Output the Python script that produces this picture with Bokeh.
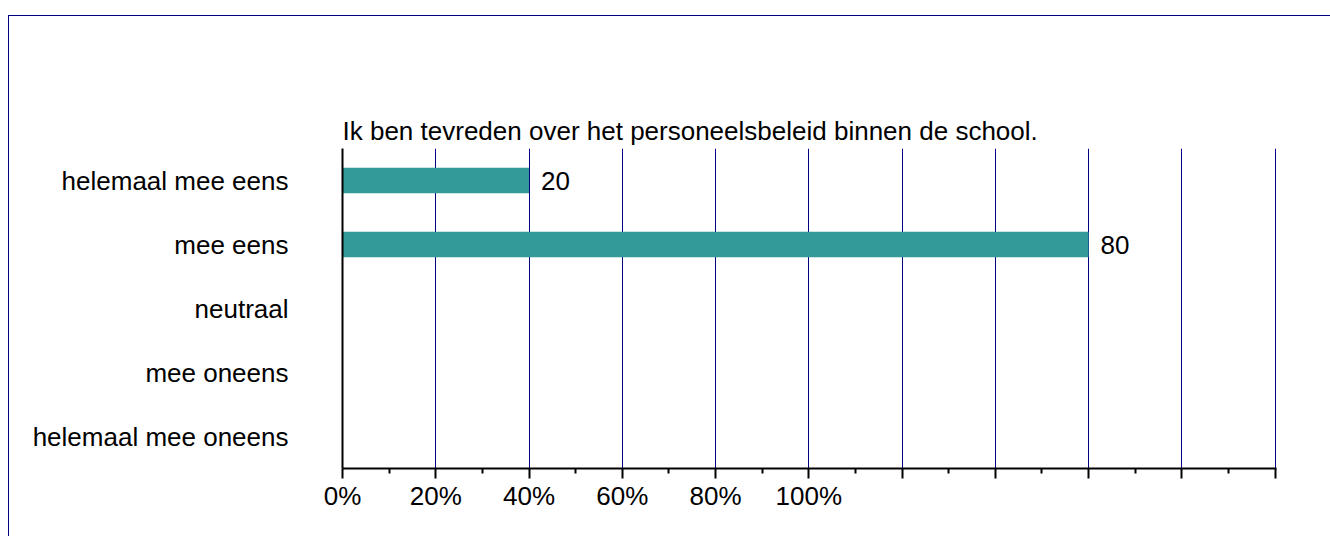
from bokeh.plotting import figure
from bokeh.models import Range1d, FactorRange, FixedTicker, ColumnDataSource
from bokeh.core.properties import value
from bokeh.embed import file_html
from bokeh.resources import INLINE

title_text = "Ik ben tevreden over het personeelsbeleid binnen de school."
categories = ["helemaal mee eens", "mee eens", "neutraal", "mee oneens", "helemaal mee oneens"]
counts = [20, 80, 0, 0, 0]
tick_values = [0, 10, 20, 30, 40, 50, 60, 70, 80, 90, 100]
tick_labels = ["0%", "20%", "40%", "60%", "80%", "100%"]

FONT = "Liberation Sans"
FS = "26px"
BAR = "#339999"
GRID = "#000080"

p = figure(width=1321, height=520, output_backend="svg", toolbar_location=None,
           x_range=Range1d(0, 100.15), y_range=FactorRange(factors=list(reversed(categories))),
           min_border_left=333, min_border_right=54, min_border_top=132, min_border_bottom=68)
p.margin = (16, 0, 0, 9)
p.styles = {"outline": "1px solid #000080"}
p.outline_line_color = None
p.background_fill_color = "white"
p.border_fill_color = "white"

p.title.text = title_text
p.title.align = "left"
p.title.text_font = FONT
p.title.text_font_size = FS
p.title.text_font_style = "normal"
p.title.text_color = "black"
p.title.standoff = 6

src = ColumnDataSource(dict(cat=categories, val=counts))
p.hbar(y="cat", left=0, right="val", height=0.4, source=src, fill_color=BAR, line_color=None)

lab = [(c, v) for c, v in zip(categories, counts) if v > 0]
lsrc = ColumnDataSource(dict(cat=[c for c, _ in lab], val=[v for _, v in lab], txt=[str(v) for _, v in lab]))
p.text(x="val", y="cat", text="txt", source=lsrc, x_offset=12, text_baseline="middle",
       text_align="left", text_font=value(FONT), text_font_size=FS, text_color="black")

# x axis
xa = p.xaxis[0]
xa.ticker = FixedTicker(ticks=tick_values, minor_ticks=[v + 5 for v in tick_values[:-1]])
xa.major_label_overrides = {v: (tick_labels[i] if i < len(tick_labels) else "") for i, v in enumerate(tick_values)}
xa.axis_line_color = "black"
xa.axis_line_width = 2
xa.major_tick_line_color = "black"
xa.major_tick_line_width = 2
xa.major_tick_in = 0
xa.major_tick_out = 10
xa.minor_tick_line_color = "black"
xa.minor_tick_line_width = 2
xa.minor_tick_in = 0
xa.minor_tick_out = 5
xa.major_label_text_font = FONT
xa.major_label_text_font_size = FS
xa.major_label_text_color = "black"
xa.major_label_standoff = 2

ya = p.yaxis[0]
ya.axis_line_color = "black"
ya.axis_line_width = 2
ya.major_tick_line_color = None
ya.major_tick_in = 0
ya.major_tick_out = 0
ya.minor_tick_line_color = None
ya.major_label_text_font = FONT
ya.major_label_text_font_size = FS
ya.major_label_text_color = "black"
ya.major_label_standoff = 54

p.xgrid.grid_line_color = GRID
p.xgrid.grid_line_width = 1
p.xgrid.ticker = FixedTicker(ticks=tick_values)
p.ygrid.grid_line_color = None

open("out.html", "w").write(file_html(p, INLINE))
